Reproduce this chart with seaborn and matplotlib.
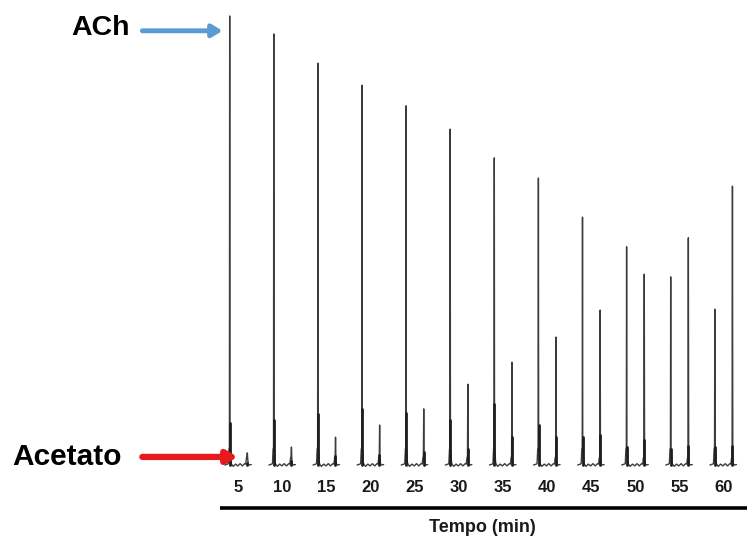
import numpy as np
import pandas as pd
import matplotlib
matplotlib.use("Agg")
import matplotlib.pyplot as plt
import seaborn as sns

# ---- data ----
tempos = [5, 10, 15, 20, 25, 30, 35, 40, 45, 50, 55, 60]
tick_labels = ["5", "10", "15", "20", "25", "30", "35", "40", "45", "50", "55", "60"]
ach_peak = [100.0, 96.0, 89.5, 84.6, 80.0, 74.8, 68.4, 63.9, 55.2, 48.6, 41.9, 34.7]
ach_shoulder = [9.4, 10.0, 11.4, 12.5, 11.6, 10.0, 13.6, 8.9, 6.2, 4.0, 3.6, 4.0]
acetato_peak = [2.7, 4.0, 6.2, 8.9, 12.5, 18.0, 22.9, 28.5, 34.5, 42.5, 50.6, 62.1]
acetato_shoulder = [0.5, 0.8, 2.0, 2.2, 2.9, 3.6, 6.2, 6.2, 6.7, 5.6, 4.2, 4.2]
baseline_wiggle = [-0.3, 0.2, -0.2, 0.3, -0.2, 0.3]

sns.set_theme(style="white")
plt.rcParams['font.family'] = ['Liberation Sans', 'DejaVu Sans']

# build trace table
rows = []
shoulder_rows = []
for i, t in enumerate(tempos):
    a, s, c, cs = ach_peak[i], ach_shoulder[i], acetato_peak[i], acetato_shoulder[i]
    seq = [(-1.55, 0.0), (-1.25, 0.2), (-1.15, 0.3), (-1.08, 3.5), (-1.03, 4.0),
           (-1.0, a), (-0.97, 4.0), (-0.92, 3.0), (-0.86, 0.8), (-0.8, 0.2)]
    for k, w in enumerate(baseline_wiggle):
        seq.append((-0.6 + k * 0.26, w))
    seq += [(0.82, 0.2), (0.9, 1.5), (0.96, 2.0), (1.0, c),
            (1.04, 1.5), (1.1, 0.3), (1.2, 0.0), (1.45, 0.1)]
    for order, (dx, y) in enumerate(seq):
        rows.append({"panel": i, "x": t + dx, "sinal": y})
    for dx, h in [(-0.985, s), (0.985, cs)]:
        shoulder_rows.append({"pk": f"{i}_{dx}", "x": t + dx, "sinal": 0.0})
        shoulder_rows.append({"pk": f"{i}_{dx}", "x": t + dx, "sinal": h})
df = pd.DataFrame(rows)
df_sh = pd.DataFrame(shoulder_rows)

fig = plt.figure(figsize=(7.47, 5.40), dpi=100)
ax = fig.add_axes([0, 0, 1, 1])
sns.lineplot(data=df, x="x", y="sinal", units="panel", estimator=None, sort=False,
             color="#3c3c3c", lw=1.0, ax=ax, legend=False)
sns.lineplot(data=df_sh, x="x", y="sinal", units="pk", estimator=None, sort=False,
             color="#1e1e1e", lw=2.0, ax=ax, legend=False)

ax.set_xlim(-22.04, 62.65)
ax.set_ylim(-16.70, 103.56)
ax.axis("off")

for t, lab in zip(tempos, tick_labels):
    ax.text(t, -5.0, lab, ha="center", va="center", fontsize=12,
            fontweight="bold", color="#1a1a1a")

ax.plot([2.9, 62.65], [-9.58, -9.58], color="black", lw=2.6, solid_capstyle="butt")
ax.text(32.6, -14.0, "Tempo (min)", ha="center", va="center", fontsize=13,
        fontweight="bold", color="#1a1a1a")

ax.text(-10.6, 97.3, "ACh", ha="center", va="center", fontsize=20.5,
        fontweight="bold", color="black")
ax.text(-14.4, 1.8, "Acetato", ha="center", va="center", fontsize=21.5,
        fontweight="bold", color="black")

ax.annotate("", xy=(3.2, 96.7), xytext=(-5.9, 96.7),
            arrowprops=dict(arrowstyle="-|>,head_length=0.5,head_width=0.3",
                            color="#5b9bd5", lw=3.5, shrinkA=0, shrinkB=0))
ax.annotate("", xy=(4.9, 1.8), xytext=(-5.9, 1.8),
            arrowprops=dict(arrowstyle="-|>,head_length=0.5,head_width=0.3",
                            color="#e8191c", lw=4.5, shrinkA=0, shrinkB=0))

fig.savefig("out.png", dpi=100)
